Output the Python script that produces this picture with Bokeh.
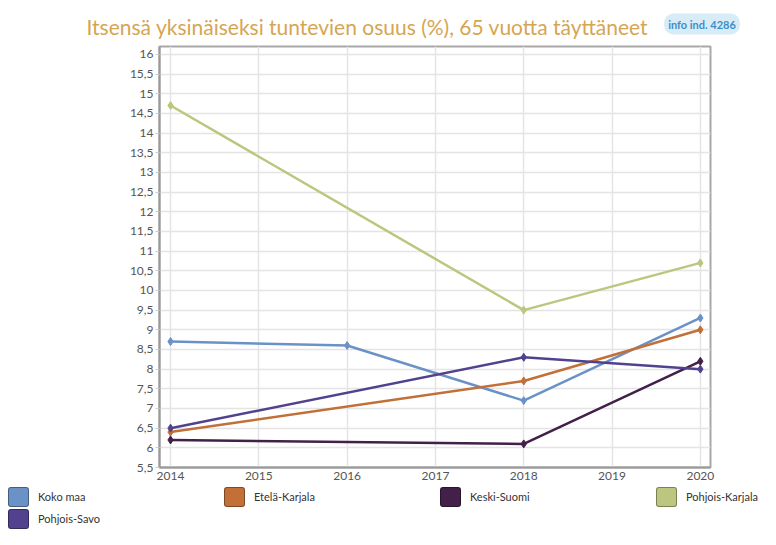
from bokeh.plotting import figure
from bokeh.layouts import column
from bokeh.models import FixedTicker, Label, Range1d, Title, Div
from bokeh.embed import file_html
from bokeh.resources import INLINE

title_text = "Itsensä yksinäiseksi tuntevien osuus (%), 65 vuotta täyttäneet"
badge_text = "info ind. 4286"

series_names = ["Koko maa", "Etelä-Karjala", "Keski-Suomi", "Pohjois-Karjala", "Pohjois-Savo"]
series_colors = ["#6b92c6", "#c26f38", "#42204a", "#bcc67e", "#51418e"]

years_koko = [2014, 2016, 2018, 2020]
vals_koko = [8.7, 8.6, 7.2, 9.3]
years_ek = [2014, 2018, 2020]
vals_ek = [6.4, 7.7, 9.0]
years_ks = [2014, 2018, 2020]
vals_ks = [6.2, 6.1, 8.2]
years_pk = [2014, 2018, 2020]
vals_pk = [14.7, 9.5, 10.7]
years_ps = [2014, 2018, 2020]
vals_ps = [6.5, 8.3, 8.0]

x_ticks = [2014, 2015, 2016, 2017, 2018, 2019, 2020]
y_ticks = [5.5 + 0.5 * i for i in range(22)]
y_tick_labels = ["5,5", "6", "6,5", "7", "7,5", "8", "8,5", "9", "9,5", "10", "10,5",
                 "11", "11,5", "12", "12,5", "13", "13,5", "14", "14,5", "15", "15,5", "16"]

FONT = "Lato"
W = 760
FIG_H, LEG_H = 486, 43
FL, FR, FT, FB = 159, 710, 46, 19

p = figure(width=W, height=FIG_H, output_backend="svg", toolbar_location=None,
           x_range=Range1d(2013.875, 2020.115), y_range=Range1d(5.5, 16.2),
           min_border_left=FL, min_border_right=W - FR, min_border_top=FT,
           min_border_bottom=FB, title=None)
p.outline_line_color = "#a8a8a8"
p.outline_line_width = 2

p.xaxis.ticker = FixedTicker(ticks=x_ticks)
p.yaxis.ticker = FixedTicker(ticks=y_ticks)
p.yaxis.major_label_overrides = {t: l for t, l in zip(y_ticks, y_tick_labels)}
for ax in (p.xaxis[0], p.yaxis[0]):
    ax.axis_line_color = "#9a9a9a"
    ax.axis_line_width = 2
    ax.major_tick_line_color = "#cccccc"
    ax.minor_tick_line_color = None
    ax.major_label_text_color = "#555555"
    ax.major_label_text_font = FONT
    ax.major_label_text_font_size = "12px"
p.yaxis.major_tick_out = 4
p.yaxis.major_tick_in = 0
p.yaxis.major_label_standoff = 2
p.xaxis.major_tick_out = 0
p.xaxis.major_tick_in = 0
p.xaxis.major_label_standoff = 4
p.xgrid.grid_line_color = "#e4e4e4"
p.ygrid.grid_line_color = "#e4e4e4"
p.xgrid.grid_line_width = 1.5
p.ygrid.grid_line_width = 1.5

all_series = [(years_koko, vals_koko), (years_ek, vals_ek), (years_ks, vals_ks),
              (years_pk, vals_pk), (years_ps, vals_ps)]
for (xs, ys), c in zip(all_series, series_colors):
    p.line(xs, ys, line_color=c, line_width=2.5)
    p.scatter(xs, ys, marker="diamond", size=8, fill_color=c, line_color=c)

# badge lives in the (wide, mostly empty) left border panel; screen units from that panel
badge = Label(x=651.5, y=(FIG_H - FB) - 23.5, x_units="screen", y_units="screen",
              text=badge_text, text_align="center", text_baseline="middle",
              text_font=FONT, text_font_size="11px", text_font_style="bold",
              text_color="#3d8ec9", background_fill_color="#d8ecf8",
              border_radius=9, padding=4)
p.add_layout(badge, "left")

title = Title(text=title_text, align="left", offset=86 - FL, standoff=16,
              text_font=FONT, text_font_size="21px", text_font_style="normal",
              text_color="#d6a552")
p.add_layout(title, "above")

# legend strip
parts = []
for i, (name, c) in enumerate(zip(series_names, series_colors)):
    left = 8 + (i % 4) * 216
    top = 1 + (i // 4) * 22
    parts.append(
        f'<div style="position:absolute;left:{left}px;top:{top}px;height:20px;'
        f'display:flex;align-items:center;white-space:nowrap;">'
        f'<span style="display:inline-block;width:21px;height:20px;box-sizing:border-box;'
        f'background:{c};border:1px solid rgba(0,0,0,0.35);border-radius:3px;'
        f'margin-right:9px;"></span>'
        f'<span style="font-family:Lato,sans-serif;font-size:11px;color:#333333;">{name}</span>'
        f'</div>')
legend_html = (f'<div style="position:relative;width:{W}px;height:{LEG_H}px;">'
               + "".join(parts) + '</div>')
legend_div = Div(text=legend_html, width=W, height=LEG_H, margin=0)

layout = column(p, legend_div, spacing=0)
open("out.html", "w").write(file_html(layout, INLINE))
